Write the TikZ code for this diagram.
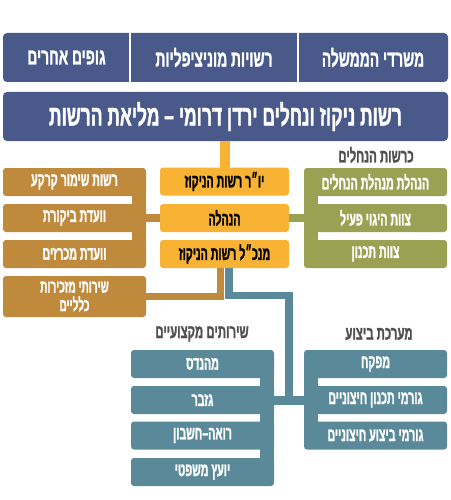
\documentclass[tikz,border=0pt]{standalone}
\usepackage{fontspec}
\newfontfamily\heb[Script=Hebrew,FakeStretch=0.6,FakeBold=1.2]{Liberation Sans}
\newfontfamily\hebn[Script=Hebrew,FakeStretch=0.56,FakeBold=1.2]{Liberation Sans}
\TeXXeTstate=1
\newcommand\heR[1]{\beginR#1\endR}
\definecolor{navyc}{HTML}{48598A}
\definecolor{yelc}{HTML}{F8B234}
\definecolor{brc}{HTML}{BF8A3C}
\definecolor{grc}{HTML}{9AA153}
\definecolor{blc}{HTML}{5A8A9A}
\definecolor{grayt}{HTML}{505050}
\begin{document}
\begin{tikzpicture}[x=1pt,y=-1pt,
  every node/.style={inner sep=0pt,outer sep=0pt},
  hebtext/.style={font=\hebn\bfseries\fontsize{19}{21}\selectfont,text=white,align=center},
  box/.style={hebtext,rounded corners=3pt,minimum width=129pt,minimum height=28pt},
  wbox/.style={box,minimum width=143pt},
  ybox/.style={box,fill=yelc,text=black},
  brbox/.style={wbox,fill=brc},
  grbox/.style={wbox,fill=grc},
  blbox/.style={wbox,fill=blc},
  ttl/.style={font=\heb\bfseries\fontsize{19}{21}\selectfont,text=grayt},
  topt/.style={hebtext,font=\heb\bfseries\fontsize{23}{25}\selectfont,minimum height=49pt},
  conn/.style={line width=8pt,line join=miter},
]
\useasboundingbox (0,0) rectangle (450,500);
% top band
\node[fill=navyc,rounded corners=4pt,minimum width=445pt,minimum height=49pt] (band) at (225.5,57.5) {};
\node[topt,minimum width=150pt] (gov) at (373,57.5) {\heR{משרדי הממשלה}};
\node[topt,minimum width=168pt] (muni) at (214,57.5) {\heR{רשויות מוניציפליות}};
\node[topt,minimum width=127pt] (other) at (66.5,57.5) {\heR{גופים אחרים}};
\draw[white,line width=1.5pt] (muni.west |- band.north) -- (muni.west |- band.south);
\draw[white,line width=1.5pt] (muni.east |- band.north) -- (muni.east |- band.south);
% main
\node[hebtext,font=\heb\bfseries\fontsize{29}{31}\selectfont,fill=navyc,rounded corners=4pt,minimum width=445pt,minimum height=49pt] (main) at (225.5,116.5) {\heR{רשות ניקוז ונחלים ירדן דרומי – מליאת הרשות}};
% yellow
\node[ybox] (yor) at (224.5,181.5) {\heR{יו״ר רשות הניקוז}};
\node[ybox] (hanhala) at (224.5,218) {\heR{הנהלה}};
\node[ybox] (mankal) at (224.5,254) {\heR{מנכ״ל רשות הניקוז}};
% brown
\node[brbox] (b1) at (74.5,182) {\heR{רשות שימור קרקע}};
\node[brbox] (b2) at (74.5,218) {\heR{וועדת ביקורת}};
\node[brbox] (b3) at (74.5,254) {\heR{וועדת מכרזים}};
\node[brbox,minimum height=41pt,font=\hebn\bfseries\fontsize{18}{18.5}\selectfont] (b4) at (74.5,296.5) {\heR{שירותי מזכירות}\\\heR{כלליים}};
\fill[brc] ([xshift=-14pt]b1.east) rectangle (b3.east);
% green
\node[ttl] (gtitle) at (376,155) {\heR{כרשות הנחלים}};
\node[grbox] (g1) at (375.5,182) {\heR{הנהלת מנהלת הנחלים}};
\node[grbox] (g2) at (375.5,218) {\heR{צוות היגוי פעיל}};
\node[grbox] (g3) at (375.5,254) {\heR{צוות תכנון}};
\fill[grc] ([xshift=14pt]g1.west) rectangle (g3.west);
% blue left
\node[ttl] (ptitle) at (202,334) {\heR{שירותים מקצועיים}};
\node[blbox] (p1) at (202.5,364) {\heR{מהנדס}};
\node[blbox] (p2) at (202.5,400) {\heR{גזבר}};
\node[blbox] (p3) at (202.5,435.5) {\heR{רואה–חשבון}};
\node[blbox] (p4) at (202.5,472) {\heR{יועץ משפטי}};
\fill[blc] ([xshift=-14pt]p1.east) rectangle (p4.east);
% blue right
\node[ttl] (etitle) at (379,334) {\heR{מערכת ביצוע}};
\node[blbox] (e1) at (375.5,364) {\heR{מפקח}};
\node[blbox] (e2) at (375.5,400) {\heR{גורמי תכנון חיצוניים}};
\node[blbox] (e3) at (375.5,435.5) {\heR{גורמי ביצוע חיצוניים}};
\fill[blc] ([xshift=14pt]e1.west) rectangle (e3.west);
% connectors
\draw[conn,yelc,line width=10pt] (yor.north) -- (yor.north |- main.south);
\draw[conn,brc] (hanhala.west) -- (b2.east);
\draw[conn,grc] (hanhala.east) -- (g2.west);
\draw[conn,brc,line width=7pt] ([xshift=-4.5pt]mankal.south) |- (b4.east);
\coordinate (bj) at (289,295.5);
\draw[conn,blc,line width=7.5pt] ([xshift=4.5pt]mankal.south) |- (bj) -- (bj |- p2.east);
\draw[conn,blc,line width=9pt] (p2.east) -- (e2.west);
\end{tikzpicture}
\end{document}
